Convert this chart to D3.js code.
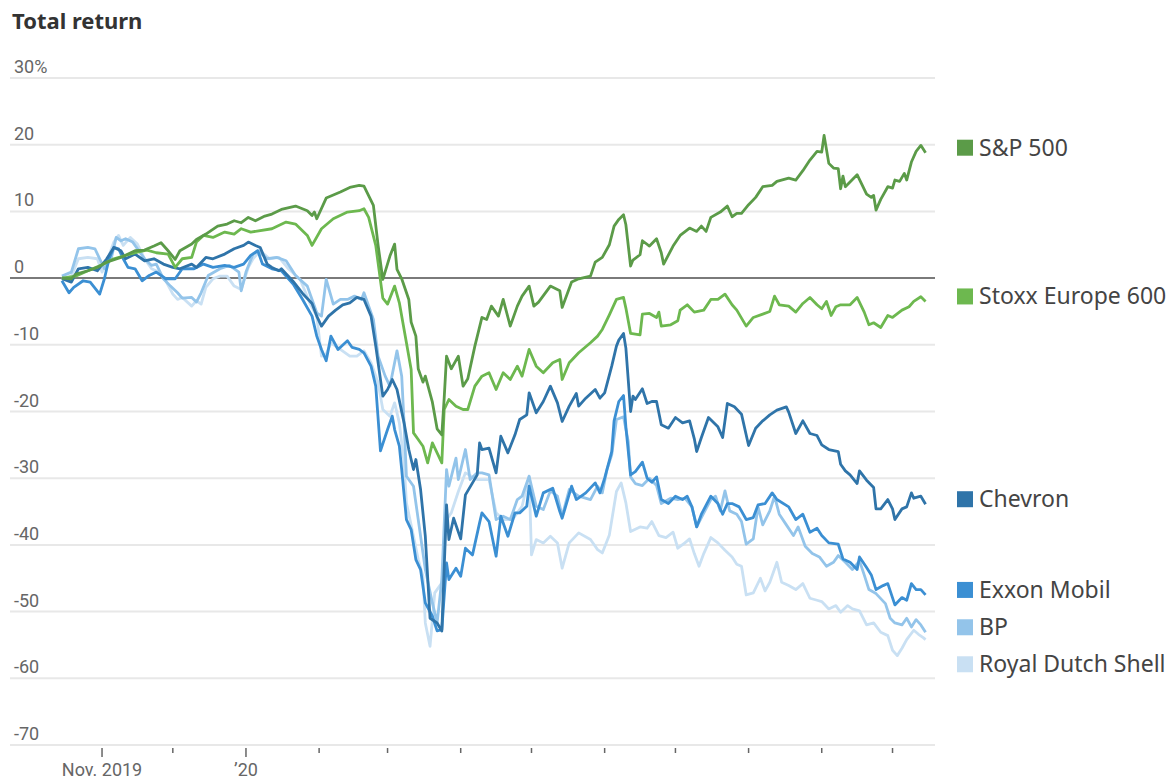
<!DOCTYPE html>
<html>
<head>
<meta charset="utf-8">
<script src="https://cdnjs.cloudflare.com/ajax/libs/d3/7.8.5/d3.min.js"></script>
<style>
  body { margin: 0; background: #fff; }
  #chart { width: 1176px; height: 780px; }
  .title { font-family: "Noto Sans", sans-serif; font-weight: 700; font-size: 22px; fill: #333; }
  .tick-label { font-family: Roboto, "Noto Sans", sans-serif; font-size: 18px; fill: #666; }
  .legend-label { font-family: "Noto Sans", sans-serif; font-size: 23px; fill: #444; }
</style>
</head>
<body>
<div id="chart"></div>
<script>
// series names, drawn bottom to top later
const seriesNames = ["S&P 500", "Stoxx Europe 600", "Chevron", "Exxon Mobil", "BP", "Royal Dutch Shell"];

const yTicks = [30, 20, 10, 0, -10, -20, -30, -40, -50, -60, -70];
const yTickLabels = ["30%", "20", "10", "0", "-10", "-20", "-30", "-40", "-50", "-60", "-70"];

const xTicks = ["2019-11-01", "2019-12-01", "2020-01-01", "2020-02-01", "2020-03-01", "2020-04-01",
    "2020-05-01", "2020-06-01", "2020-07-01", "2020-08-01", "2020-09-01", "2020-10-01"];
const xTickLabels = ["Nov. 2019", "", "\u201920", "", "", "", "", "", "", "", "", ""];

// total return, %
const sp500 = [
    ["2019-10-15", 0], ["2019-10-19", -0.1], ["2019-10-21", 0.6], ["2019-10-26", 1.1], ["2019-10-30", 1.6],
    ["2019-11-03", 2.4], ["2019-11-09", 3.1], ["2019-11-15", 4.1], ["2019-11-19", 4.2], ["2019-11-23", 4.8],
    ["2019-11-26", 5.3], ["2019-11-29", 4.1], ["2019-12-02", 2.8], ["2019-12-04", 4.1], ["2019-12-09", 5.1],
    ["2019-12-11", 5.8], ["2019-12-15", 6.6], ["2019-12-20", 7.8], ["2019-12-24", 8.1], ["2019-12-27", 8.6],
    ["2019-12-30", 8.3], ["2020-01-02", 9.1], ["2020-01-05", 8.6], ["2020-01-09", 9.3], ["2020-01-12", 9.6],
    ["2020-01-16", 10.3], ["2020-01-22", 10.8], ["2020-01-27", 10.1], ["2020-01-29", 9.4], ["2020-01-30", 9.9],
    ["2020-01-31", 8.9], ["2020-02-04", 12.0], ["2020-02-10", 12.9], ["2020-02-14", 13.6], ["2020-02-18", 13.9],
    ["2020-02-20", 13.8], ["2020-02-24", 10.9], ["2020-02-26", 4.9], ["2020-02-28", -0.2], ["2020-03-02", 3.3],
    ["2020-03-04", 5.1], ["2020-03-05", 1.3], ["2020-03-07", -0.1], ["2020-03-10", -3.2], ["2020-03-11", -6.6],
    ["2020-03-13", -8.7], ["2020-03-14", -13.6], ["2020-03-16", -15.6], ["2020-03-17", -14.7], ["2020-03-20", -18.6],
    ["2020-03-22", -22.6], ["2020-03-24", -23.5], ["2020-03-25", -18], ["2020-03-26", -11.7], ["2020-03-28", -13.6],
    ["2020-03-31", -11.7], ["2020-04-02", -16.2], ["2020-04-04", -15.1], ["2020-04-07", -10.2], ["2020-04-10", -5.9],
    ["2020-04-12", -6.2], ["2020-04-14", -4.2], ["2020-04-17", -5.7], ["2020-04-19", -3.2], ["2020-04-22", -7.2],
    ["2020-04-25", -4.2], ["2020-04-27", -2.7], ["2020-04-30", -1.2], ["2020-05-02", -4.2], ["2020-05-04", -3.6],
    ["2020-05-09", -1.2], ["2020-05-13", -1.9], ["2020-05-14", -4.4], ["2020-05-18", -0.6], ["2020-05-21", -0.1],
    ["2020-05-26", 0.3], ["2020-05-28", 2.4], ["2020-05-31", 3.1], ["2020-06-03", 5.0], ["2020-06-05", 7.8],
    ["2020-06-07", 8.8], ["2020-06-09", 9.5], ["2020-06-10", 8.0], ["2020-06-12", 1.8], ["2020-06-13", 2.7],
    ["2020-06-16", 3.5], ["2020-06-17", 5.6], ["2020-06-20", 4.8], ["2020-06-23", 5.9], ["2020-06-25", 3.8],
    ["2020-06-26", 2.1], ["2020-06-30", 4.8], ["2020-07-03", 6.4], ["2020-07-07", 7.5], ["2020-07-10", 7.0],
    ["2020-07-12", 7.8], ["2020-07-14", 7.0], ["2020-07-16", 9.1], ["2020-07-20", 9.9], ["2020-07-23", 10.8],
    ["2020-07-25", 9.2], ["2020-07-27", 9.7], ["2020-07-29", 9.7], ["2020-08-01", 11.0], ["2020-08-04", 12.1],
    ["2020-08-07", 13.7], ["2020-08-11", 13.9], ["2020-08-13", 14.5], ["2020-08-18", 15.0], ["2020-08-21", 14.7],
    ["2020-08-24", 16.1], ["2020-08-27", 17.7], ["2020-08-30", 19.0], ["2020-09-01", 18.9], ["2020-09-02", 21.4],
    ["2020-09-04", 17.2], ["2020-09-06", 16.5], ["2020-09-08", 16.4], ["2020-09-09", 13.4], ["2020-09-10", 15.3],
    ["2020-09-11", 13.7], ["2020-09-16", 15.5], ["2020-09-20", 12.6], ["2020-09-22", 12.1], ["2020-09-23", 12.4],
    ["2020-09-24", 10.2], ["2020-09-26", 11.8], ["2020-09-29", 13.7], ["2020-10-01", 13.5], ["2020-10-02", 14.7],
    ["2020-10-04", 14.5], ["2020-10-06", 15.7], ["2020-10-07", 14.7], ["2020-10-09", 17.4], ["2020-10-11", 19.0],
    ["2020-10-13", 19.9], ["2020-10-15", 18.8]
];

const stoxx600 = [
    ["2019-10-15", 0], ["2019-10-21", 0.3], ["2019-10-26", 1.1], ["2019-11-01", 2.0], ["2019-11-06", 2.9],
    ["2019-11-12", 3.5], ["2019-11-16", 3.9], ["2019-11-20", 4.2], ["2019-11-24", 3.8], ["2019-11-29", 3.6],
    ["2019-12-02", 1.6], ["2019-12-05", 2.9], ["2019-12-09", 3.1], ["2019-12-11", 5.4], ["2019-12-14", 6.4],
    ["2019-12-18", 6.1], ["2019-12-23", 6.9], ["2019-12-27", 6.6], ["2019-12-30", 7.4], ["2020-01-03", 6.9],
    ["2020-01-12", 7.4], ["2020-01-18", 8.4], ["2020-01-22", 8.1], ["2020-01-27", 6.4], ["2020-01-29", 4.9],
    ["2020-02-02", 7.4], ["2020-02-07", 8.9], ["2020-02-13", 9.9], ["2020-02-18", 10.1], ["2020-02-20", 10.4],
    ["2020-02-22", 9.1], ["2020-02-25", 4.9], ["2020-02-28", -3.0], ["2020-03-01", -3.9], ["2020-03-04", -1.2],
    ["2020-03-06", -3.7], ["2020-03-09", -9.7], ["2020-03-11", -13.7], ["2020-03-12", -23.2], ["2020-03-14", -24.2],
    ["2020-03-16", -25.2], ["2020-03-18", -27.7], ["2020-03-20", -24.7], ["2020-03-22", -26.2], ["2020-03-24", -27.7],
    ["2020-03-25", -19.7], ["2020-03-27", -18.2], ["2020-03-30", -19.2], ["2020-04-02", -19.7], ["2020-04-04", -19.7],
    ["2020-04-07", -16.2], ["2020-04-10", -14.7], ["2020-04-13", -14.2], ["2020-04-16", -16.7], ["2020-04-19", -14.2],
    ["2020-04-22", -15.2], ["2020-04-25", -13.2], ["2020-04-27", -14.7], ["2020-04-30", -10.7], ["2020-05-03", -13.2],
    ["2020-05-06", -14.2], ["2020-05-10", -12.7], ["2020-05-13", -12.2], ["2020-05-14", -15.2], ["2020-05-17", -12.7],
    ["2020-05-21", -11.2], ["2020-05-26", -9.7], ["2020-05-29", -8.7], ["2020-05-31", -7.7], ["2020-06-03", -5.5],
    ["2020-06-06", -3.2], ["2020-06-09", -2.9], ["2020-06-10", -4.5], ["2020-06-12", -8.3], ["2020-06-16", -8.5],
    ["2020-06-17", -5.4], ["2020-06-20", -5.3], ["2020-06-23", -5.9], ["2020-06-24", -5.1], ["2020-06-25", -7.2],
    ["2020-06-29", -7.0], ["2020-07-02", -6.4], ["2020-07-03", -4.8], ["2020-07-06", -4.0], ["2020-07-09", -5.1],
    ["2020-07-13", -4.8], ["2020-07-16", -3.2], ["2020-07-19", -3.2], ["2020-07-22", -2.4], ["2020-07-25", -4.0],
    ["2020-07-27", -4.8], ["2020-07-31", -7.2], ["2020-08-03", -5.9], ["2020-08-07", -5.4], ["2020-08-10", -5.0],
    ["2020-08-12", -2.7], ["2020-08-14", -4.0], ["2020-08-18", -4.2], ["2020-08-21", -5.1], ["2020-08-24", -3.8],
    ["2020-08-27", -2.9], ["2020-08-30", -4.0], ["2020-09-01", -4.6], ["2020-09-03", -3.5], ["2020-09-05", -5.6],
    ["2020-09-07", -4.3], ["2020-09-09", -4.0], ["2020-09-13", -4.0], ["2020-09-16", -2.9], ["2020-09-19", -5.1],
    ["2020-09-21", -7.0], ["2020-09-23", -6.7], ["2020-09-26", -7.4], ["2020-09-29", -5.6], ["2020-10-01", -5.9],
    ["2020-10-05", -4.8], ["2020-10-08", -4.3], ["2020-10-10", -3.5], ["2020-10-13", -2.8], ["2020-10-15", -3.5]
];

const chevron = [
    ["2019-10-15", -0.1], ["2019-10-19", -0.6], ["2019-10-22", 1.4], ["2019-10-26", 1.6], ["2019-10-30", 1.1],
    ["2019-11-03", 2.9], ["2019-11-06", 4.6], ["2019-11-09", 4.1], ["2019-11-11", 2.9], ["2019-11-15", 3.6],
    ["2019-11-19", 2.6], ["2019-11-23", 2.9], ["2019-11-27", 2.1], ["2019-12-01", 1.6], ["2019-12-04", 1.4],
    ["2019-12-09", 2.1], ["2019-12-11", 1.6], ["2019-12-15", 3.1], ["2019-12-18", 2.9], ["2019-12-23", 3.6],
    ["2019-12-27", 4.4], ["2019-12-31", 4.9], ["2020-01-02", 5.4], ["2020-01-05", 4.9], ["2020-01-07", 4.6],
    ["2020-01-10", 2.1], ["2020-01-12", 1.6], ["2020-01-15", 1.1], ["2020-01-16", 1.4], ["2020-01-21", -0.5],
    ["2020-01-25", -2.3], ["2020-01-29", -3.8], ["2020-01-31", -5.7], ["2020-02-02", -7.2], ["2020-02-05", -5.7],
    ["2020-02-08", -4.8], ["2020-02-11", -4.0], ["2020-02-14", -3.7], ["2020-02-17", -2.9], ["2020-02-20", -3.2],
    ["2020-02-23", -5.7], ["2020-02-25", -10.2], ["2020-02-28", -17.7], ["2020-03-01", -16.7], ["2020-03-03", -15.2],
    ["2020-03-05", -16.7], ["2020-03-08", -21.7], ["2020-03-10", -25.7], ["2020-03-12", -28.7], ["2020-03-13", -27.2],
    ["2020-03-15", -31.7], ["2020-03-17", -38.7], ["2020-03-19", -51.0], ["2020-03-22", -51.7], ["2020-03-24", -52.9],
    ["2020-03-26", -34.0], ["2020-03-27", -39.2], ["2020-03-29", -36.0], ["2020-04-01", -39.1], ["2020-04-03", -32.5],
    ["2020-04-08", -29.5], ["2020-04-09", -24.7], ["2020-04-10", -25.7], ["2020-04-13", -25.5], ["2020-04-16", -29.2],
    ["2020-04-18", -23.7], ["2020-04-21", -26.2], ["2020-04-24", -23.5], ["2020-04-26", -21.2], ["2020-04-29", -20.5],
    ["2020-04-30", -17.2], ["2020-05-03", -20.2], ["2020-05-06", -18.5], ["2020-05-09", -16.2], ["2020-05-12", -18.7],
    ["2020-05-14", -21.5], ["2020-05-17", -19.2], ["2020-05-20", -17.3], ["2020-05-21", -19.2], ["2020-05-24", -18.0],
    ["2020-05-28", -16.7], ["2020-05-30", -18.0], ["2020-06-01", -17.2], ["2020-06-04", -13.2], ["2020-06-06", -10.2],
    ["2020-06-07", -9.3], ["2020-06-09", -8.3], ["2020-06-10", -10.5], ["2020-06-12", -20.0], ["2020-06-13", -17.7],
    ["2020-06-14", -18.2], ["2020-06-17", -16.6], ["2020-06-19", -18.8], ["2020-06-21", -18.5], ["2020-06-23", -18.5],
    ["2020-06-25", -22.0], ["2020-06-28", -22.5], ["2020-07-01", -20.9], ["2020-07-04", -21.7], ["2020-07-07", -21.4],
    ["2020-07-09", -24.1], ["2020-07-10", -26.0], ["2020-07-12", -23.9], ["2020-07-15", -20.9], ["2020-07-19", -22.3],
    ["2020-07-21", -23.9], ["2020-07-23", -18.8], ["2020-07-26", -19.3], ["2020-07-29", -20.4], ["2020-08-01", -25.1],
    ["2020-08-04", -22.5], ["2020-08-07", -21.4], ["2020-08-10", -20.5], ["2020-08-13", -19.8], ["2020-08-17", -19.3],
    ["2020-08-18", -20.1], ["2020-08-21", -23.3], ["2020-08-24", -21.4], ["2020-08-27", -23.3], ["2020-08-30", -23.6],
    ["2020-09-01", -25.0], ["2020-09-04", -25.7], ["2020-09-08", -26.0], ["2020-09-09", -27.9], ["2020-09-11", -28.9],
    ["2020-09-13", -29.5], ["2020-09-16", -30.8], ["2020-09-17", -28.9], ["2020-09-20", -30.3], ["2020-09-23", -31.4],
    ["2020-09-24", -34.6], ["2020-09-26", -34.6], ["2020-09-29", -33.2], ["2020-10-01", -34.6], ["2020-10-02", -36.2],
    ["2020-10-05", -34.6], ["2020-10-07", -34.3], ["2020-10-09", -32.2], ["2020-10-10", -33.0], ["2020-10-13", -32.7],
    ["2020-10-15", -33.9]
];

const exxon = [
    ["2019-10-15", -0.4], ["2019-10-18", -2.2], ["2019-10-20", -1.4], ["2019-10-24", -0.4], ["2019-10-27", -0.6],
    ["2019-10-31", -2.4], ["2019-11-02", -0.1], ["2019-11-04", 2.9], ["2019-11-06", 4.6], ["2019-11-08", 4.4],
    ["2019-11-10", 2.9], ["2019-11-12", 1.6], ["2019-11-15", 1.4], ["2019-11-18", -0.4], ["2019-11-21", 0.4],
    ["2019-11-24", 0.9], ["2019-11-28", -0.1], ["2019-12-02", -0.1], ["2019-12-05", 1.4], ["2019-12-10", 1.4],
    ["2019-12-14", 2.1], ["2019-12-18", 1.6], ["2019-12-23", 1.9], ["2019-12-27", 1.6], ["2019-12-31", 2.1],
    ["2020-01-03", 3.4], ["2020-01-06", 4.1], ["2020-01-08", 2.1], ["2020-01-12", 1.4], ["2020-01-16", 1.1],
    ["2020-01-21", -0.9], ["2020-01-25", -3.2], ["2020-01-29", -5.7], ["2020-01-31", -8.7], ["2020-02-02", -10.7],
    ["2020-02-04", -12.4], ["2020-02-06", -8.7], ["2020-02-09", -10.7], ["2020-02-13", -9.4], ["2020-02-15", -10.4],
    ["2020-02-18", -10.7], ["2020-02-20", -11.2], ["2020-02-23", -13.2], ["2020-02-25", -16.2], ["2020-02-27", -25.9],
    ["2020-03-01", -22.7], ["2020-03-03", -20.7], ["2020-03-04", -22.7], ["2020-03-06", -25.2], ["2020-03-07", -28.7],
    ["2020-03-09", -36.2], ["2020-03-11", -37.7], ["2020-03-13", -42.2], ["2020-03-15", -43.7], ["2020-03-17", -48.7],
    ["2020-03-20", -50.7], ["2020-03-22", -52.9], ["2020-03-24", -52.7], ["2020-03-26", -42.7], ["2020-03-27", -45.2],
    ["2020-03-30", -43.5], ["2020-04-01", -44.7], ["2020-04-03", -40.5], ["2020-04-06", -41.5], ["2020-04-09", -36.7],
    ["2020-04-10", -35.2], ["2020-04-13", -36.5], ["2020-04-16", -41.7], ["2020-04-18", -35.7], ["2020-04-21", -38.7],
    ["2020-04-24", -35.2], ["2020-04-26", -35.2], ["2020-04-29", -34.2], ["2020-04-30", -31.2], ["2020-05-03", -35.7],
    ["2020-05-06", -32.2], ["2020-05-10", -31.5], ["2020-05-13", -35.0], ["2020-05-14", -36.0], ["2020-05-18", -31.2],
    ["2020-05-20", -33.2], ["2020-05-24", -32.2], ["2020-05-28", -30.7], ["2020-05-30", -32.2], ["2020-06-01", -30.0],
    ["2020-06-04", -26.0], ["2020-06-05", -21.4], ["2020-06-07", -18.5], ["2020-06-09", -17.6], ["2020-06-10", -22.3],
    ["2020-06-12", -29.5], ["2020-06-14", -29.0], ["2020-06-17", -27.6], ["2020-06-19", -30.0], ["2020-06-21", -30.6],
    ["2020-06-23", -29.8], ["2020-06-25", -33.2], ["2020-06-28", -33.8], ["2020-07-01", -32.7], ["2020-07-04", -33.2],
    ["2020-07-06", -32.7], ["2020-07-08", -34.3], ["2020-07-10", -37.3], ["2020-07-12", -35.4], ["2020-07-16", -32.7],
    ["2020-07-19", -33.8], ["2020-07-21", -35.4], ["2020-07-23", -33.8], ["2020-07-25", -33.8], ["2020-07-28", -34.3],
    ["2020-07-31", -36.2], ["2020-08-03", -35.9], ["2020-08-05", -34.0], ["2020-08-08", -33.8], ["2020-08-11", -32.2],
    ["2020-08-13", -33.2], ["2020-08-18", -34.3], ["2020-08-21", -36.2], ["2020-08-24", -35.4], ["2020-08-27", -38.1],
    ["2020-08-30", -37.5], ["2020-09-01", -38.6], ["2020-09-04", -39.7], ["2020-09-08", -39.9], ["2020-09-10", -42.1],
    ["2020-09-13", -42.6], ["2020-09-16", -43.7], ["2020-09-17", -41.8], ["2020-09-20", -43.4], ["2020-09-22", -44.5],
    ["2020-09-24", -46.7], ["2020-09-27", -46.1], ["2020-09-29", -45.8], ["2020-10-02", -49.0], ["2020-10-05", -47.9],
    ["2020-10-07", -48.3], ["2020-10-09", -45.8], ["2020-10-11", -46.7], ["2020-10-13", -46.7], ["2020-10-15", -47.5]
];

const bp = [
    ["2019-10-15", 0.3], ["2019-10-19", 0.9], ["2019-10-22", 4.4], ["2019-10-26", 4.6], ["2019-10-29", 4.4],
    ["2019-10-31", 2.9], ["2019-11-02", 1.4], ["2019-11-05", 3.1], ["2019-11-07", 6.1], ["2019-11-09", 5.6],
    ["2019-11-11", 5.9], ["2019-11-14", 5.4], ["2019-11-16", 4.4], ["2019-11-19", 2.9], ["2019-11-22", 1.9],
    ["2019-11-24", 2.1], ["2019-11-27", -0.1], ["2019-11-30", -1.2], ["2019-12-03", -2.2], ["2019-12-05", -3.0],
    ["2019-12-09", -2.9], ["2019-12-11", -3.6], ["2019-12-13", -2.2], ["2019-12-16", 0.4], ["2019-12-21", 1.4],
    ["2019-12-25", 1.9], ["2019-12-29", 0.9], ["2019-12-30", -1.9], ["2020-01-01", 0.9], ["2020-01-04", 3.6],
    ["2020-01-06", 4.1], ["2020-01-10", 2.9], ["2020-01-14", 3.1], ["2020-01-18", 2.6], ["2020-01-22", 0.4],
    ["2020-01-27", -1.2], ["2020-01-29", -3.2], ["2020-01-31", -5.2], ["2020-02-02", -5.7], ["2020-02-04", -0.2],
    ["2020-02-07", -3.9], ["2020-02-10", -3.2], ["2020-02-13", -3.2], ["2020-02-16", -2.7], ["2020-02-19", -3.2],
    ["2020-02-20", -2.2], ["2020-02-24", -6.2], ["2020-02-26", -11.7], ["2020-02-29", -14.7], ["2020-03-02", -16.2],
    ["2020-03-05", -10.9], ["2020-03-07", -14.7], ["2020-03-08", -21.7], ["2020-03-09", -29.7], ["2020-03-12", -31.2],
    ["2020-03-14", -36.2], ["2020-03-17", -43.7], ["2020-03-20", -48.7], ["2020-03-22", -51.7], ["2020-03-24", -45.2],
    ["2020-03-26", -28.7], ["2020-03-27", -31.2], ["2020-03-30", -27.0], ["2020-03-31", -30.2], ["2020-04-03", -25.7],
    ["2020-04-05", -30.2], ["2020-04-08", -29.2], ["2020-04-10", -29.2], ["2020-04-13", -29.5], ["2020-04-16", -36.2],
    ["2020-04-19", -35.7], ["2020-04-22", -36.2], ["2020-04-25", -33.2], ["2020-04-27", -32.7], ["2020-04-30", -29.7],
    ["2020-05-03", -34.2], ["2020-05-06", -34.7], ["2020-05-09", -31.9], ["2020-05-12", -32.7], ["2020-05-14", -35.7],
    ["2020-05-17", -31.7], ["2020-05-21", -32.7], ["2020-05-26", -33.2], ["2020-05-29", -31.2], ["2020-05-31", -32.2],
    ["2020-06-02", -28.7], ["2020-06-04", -26.5], ["2020-06-06", -21.2], ["2020-06-09", -20.8], ["2020-06-11", -24.5],
    ["2020-06-12", -29.8], ["2020-06-14", -30.8], ["2020-06-17", -31.1], ["2020-06-20", -30.0], ["2020-06-23", -31.1],
    ["2020-06-25", -33.8], ["2020-06-29", -33.0], ["2020-07-02", -33.2], ["2020-07-05", -33.0], ["2020-07-08", -34.3],
    ["2020-07-10", -37.3], ["2020-07-12", -35.9], ["2020-07-16", -33.2], ["2020-07-18", -32.7], ["2020-07-20", -34.9],
    ["2020-07-22", -31.9], ["2020-07-24", -34.9], ["2020-07-27", -35.4], ["2020-07-29", -36.5], ["2020-07-31", -39.9],
    ["2020-08-03", -39.1], ["2020-08-05", -34.3], ["2020-08-07", -37.0], ["2020-08-10", -34.9], ["2020-08-12", -32.7],
    ["2020-08-14", -35.4], ["2020-08-17", -37.0], ["2020-08-20", -38.6], ["2020-08-22", -37.3], ["2020-08-25", -40.2],
    ["2020-08-28", -41.3], ["2020-08-31", -41.8], ["2020-09-03", -43.2], ["2020-09-06", -42.6], ["2020-09-08", -41.6],
    ["2020-09-11", -42.6], ["2020-09-14", -43.7], ["2020-09-17", -42.4], ["2020-09-19", -44.5], ["2020-09-21", -46.7],
    ["2020-09-24", -47.3], ["2020-09-28", -48.8], ["2020-09-30", -51.0], ["2020-10-02", -51.7], ["2020-10-05", -52.0],
    ["2020-10-07", -51.0], ["2020-10-09", -52.3], ["2020-10-11", -51.2], ["2020-10-13", -52.0], ["2020-10-15", -53.1]
];

const shell = [
    ["2019-10-15", -0.1], ["2019-10-19", 0.3], ["2019-10-22", 2.9], ["2019-10-26", 3.1], ["2019-10-30", 2.9],
    ["2019-11-01", 0.9], ["2019-11-03", 2.4], ["2019-11-06", 5.4], ["2019-11-08", 6.4], ["2019-11-10", 4.9],
    ["2019-11-13", 6.1], ["2019-11-16", 5.1], ["2019-11-19", 2.9], ["2019-11-22", 1.4], ["2019-11-25", 0.9],
    ["2019-11-28", -0.4], ["2019-12-01", -2.4], ["2019-12-03", -3.2], ["2019-12-05", -2.9], ["2019-12-09", -4.2],
    ["2019-12-11", -3.4], ["2019-12-13", -3.9], ["2019-12-15", -1.4], ["2019-12-18", -0.1], ["2019-12-21", 0.3],
    ["2019-12-24", 0.3], ["2019-12-27", -1.2], ["2019-12-30", -1.7], ["2020-01-02", 1.6], ["2020-01-04", 2.9],
    ["2020-01-07", 4.1], ["2020-01-11", 2.9], ["2020-01-15", 3.1], ["2020-01-19", 1.4], ["2020-01-24", -0.2],
    ["2020-01-28", -3.7], ["2020-01-31", -5.7], ["2020-02-02", -11.7], ["2020-02-04", -11.4], ["2020-02-06", -9.7],
    ["2020-02-10", -10.7], ["2020-02-14", -11.7], ["2020-02-17", -11.7], ["2020-02-20", -10.9], ["2020-02-23", -12.7],
    ["2020-02-26", -15.7], ["2020-02-28", -19.7], ["2020-03-02", -20.7], ["2020-03-04", -18.7], ["2020-03-06", -21.7],
    ["2020-03-08", -27.7], ["2020-03-09", -33.7], ["2020-03-12", -38.7], ["2020-03-14", -42.2], ["2020-03-16", -44.7],
    ["2020-03-17", -51.7], ["2020-03-19", -55.2], ["2020-03-21", -47.2], ["2020-03-24", -45.7], ["2020-03-26", -36.2],
    ["2020-03-28", -35.2], ["2020-03-31", -32.0], ["2020-04-03", -29.2], ["2020-04-08", -30.2], ["2020-04-13", -30.2],
    ["2020-04-16", -35.2], ["2020-04-19", -36.2], ["2020-04-23", -36.2], ["2020-04-27", -34.2], ["2020-04-30", -29.7],
    ["2020-05-01", -41.5], ["2020-05-03", -39.2], ["2020-05-06", -39.7], ["2020-05-09", -38.7], ["2020-05-12", -39.7],
    ["2020-05-14", -43.5], ["2020-05-17", -39.7], ["2020-05-21", -38.2], ["2020-05-26", -39.2], ["2020-05-29", -40.7],
    ["2020-05-31", -41.2], ["2020-06-03", -38.5], ["2020-06-06", -32.0], ["2020-06-08", -30.7], ["2020-06-10", -33.7],
    ["2020-06-12", -38.0], ["2020-06-16", -37.3], ["2020-06-19", -37.5], ["2020-06-21", -36.5], ["2020-06-24", -38.6],
    ["2020-06-27", -38.9], ["2020-06-30", -38.1], ["2020-07-02", -40.5], ["2020-07-05", -39.7], ["2020-07-07", -39.1],
    ["2020-07-09", -41.3], ["2020-07-11", -43.2], ["2020-07-13", -41.3], ["2020-07-16", -38.9], ["2020-07-19", -39.7],
    ["2020-07-22", -40.8], ["2020-07-25", -41.8], ["2020-07-27", -42.9], ["2020-07-29", -43.2], ["2020-07-31", -47.5],
    ["2020-08-03", -47.2], ["2020-08-06", -45.0], ["2020-08-08", -46.9], ["2020-08-10", -45.6], ["2020-08-13", -42.6],
    ["2020-08-15", -45.6], ["2020-08-18", -46.1], ["2020-08-21", -46.7], ["2020-08-24", -45.8], ["2020-08-27", -48.0],
    ["2020-08-30", -48.3], ["2020-09-01", -48.5], ["2020-09-04", -49.6], ["2020-09-07", -49.1], ["2020-09-09", -50.1],
    ["2020-09-12", -49.1], ["2020-09-14", -49.6], ["2020-09-17", -49.9], ["2020-09-20", -52.0], ["2020-09-23", -51.7],
    ["2020-09-26", -53.1], ["2020-09-29", -53.6], ["2020-10-01", -55.8], ["2020-10-03", -56.6], ["2020-10-05", -55.5],
    ["2020-10-07", -54.2], ["2020-10-10", -52.8], ["2020-10-12", -53.4], ["2020-10-14", -53.9], ["2020-10-15", -54.2]
];

const seriesData = [sp500, stoxx600, chevron, exxon, bp, shell];
const seriesColors = ["#5b9b48", "#6db84f", "#2f74a9", "#3b8fd3", "#93c4ea", "#c9e0f3"];

const parseDate = d3.timeParse("%Y-%m-%d");

const width = 1176, height = 780;
const svg = d3.select("#chart").append("svg")
    .attr("width", width)
    .attr("height", height);

const x = d3.scaleTime()
    .domain([new Date(2019, 8, 23), new Date(2020, 9, 19)])
    .range([10, 935]);

const y = d3.scaleLinear()
    .domain([-70, 30])
    .range([745, 78]);

svg.append("text")
    .attr("class", "title")
    .attr("x", 12)
    .attr("y", 29)
    .text("Total return");

// horizontal grid
const grid = svg.append("g");
grid.selectAll("line")
    .data(yTicks)
    .join("line")
    .attr("x1", 10)
    .attr("x2", 935)
    .attr("y1", d => y(d))
    .attr("y2", d => y(d))
    .attr("stroke", d => d === 0 ? "#7a7a7a" : "#e8e8e8")
    .attr("stroke-width", 2);

grid.selectAll("text")
    .data(yTicks)
    .join("text")
    .attr("class", "tick-label")
    .attr("x", 14)
    .attr("y", d => y(d) - 5)
    .text((d, i) => yTickLabels[i]);

// month ticks along the bottom
const xAxis = svg.append("g");
xTicks.forEach((t, i) => {
    const xp = x(parseDate(t));
    const labelled = xTickLabels[i] !== "";
    xAxis.append("line")
        .attr("x1", xp).attr("x2", xp)
        .attr("y1", 748).attr("y2", labelled ? 757 : 753)
        .attr("stroke", "#666")
        .attr("stroke-width", 1.5);
    if (labelled) {
        xAxis.append("text")
            .attr("class", "tick-label")
            .attr("x", xp)
            .attr("y", 776)
            .attr("text-anchor", "middle")
            .text(xTickLabels[i]);
    }
});

const line = d3.line()
    .x(d => x(parseDate(d[0])))
    .y(d => y(d[1]));

// draw lightest first so the darker lines sit on top
const order = [5, 4, 3, 2, 1, 0];
svg.append("g")
    .selectAll("path")
    .data(order)
    .join("path")
    .attr("fill", "none")
    .attr("stroke", i => seriesColors[i])
    .attr("stroke-width", 2.8)
    .attr("stroke-linejoin", "round")
    .attr("d", i => line(seriesData[i]));

// legend at line ends, pushed down when labels would collide
const legendPos = seriesData.map((s, i) => ({i: i, y: y(s[s.length - 1][1]) - 5}));
legendPos.sort((a, b) => a.y - b.y);
const gap = 37;
for (let j = 1; j < legendPos.length; j++) {
    legendPos[j].y = Math.max(legendPos[j].y, legendPos[j - 1].y + gap);
}

const legend = svg.append("g");
legendPos.forEach(p => {
    legend.append("rect")
        .attr("x", 957)
        .attr("y", p.y - 8)
        .attr("width", 16)
        .attr("height", 16)
        .attr("fill", seriesColors[p.i]);
    legend.append("text")
        .attr("class", "legend-label")
        .attr("x", 979)
        .attr("y", p.y + 8)
        .text(seriesNames[p.i]);
});
</script>
</body>
</html>
